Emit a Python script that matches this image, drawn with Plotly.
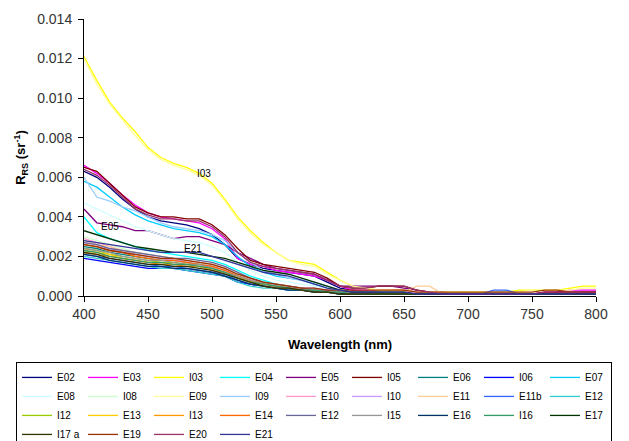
import plotly.graph_objects as go

wavelength = [400, 410, 420, 430, 440, 450, 460, 470, 480, 490, 500, 510, 520, 530, 540, 550,
              560, 570, 580, 590, 600, 610, 620, 630, 640, 650, 660, 670, 680, 690, 700, 710,
              720, 730, 740, 750, 760, 770, 780, 790, 800]

station_names = ["E02", "E03", "I03", "E04", "E05", "I05", "E06", "I06", "E07",
                 "E08", "I08", "E09", "I09", "E10", "I10", "E11", "E11b", "E12",
                 "I12", "E13", "I13", "E14", "E12", "I15", "E16", "I16", "E17",
                 "I17 a", "E19", "E20", "E21"]

station_colors = ["#000080", "#FF00FF", "#FFFF00", "#00FFFF", "#800080", "#800000", "#008080", "#0000FF", "#00CCFF",
                  "#CCFFFF", "#CCFFCC", "#FFFF99", "#99CCFF", "#FF99CC", "#CC99FF", "#FFCC99", "#3366FF", "#33CCCC",
                  "#99CC00", "#FFCC00", "#FF9900", "#FF6600", "#666699", "#969696", "#003366", "#339966", "#003300",
                  "#333300", "#993300", "#993366", "#333399"]

# Remote-sensing reflectance, sr^-1
rrs_E02 = [0.0063, 0.0060, 0.0055, 0.0049, 0.0044, 0.0040, 0.0038, 0.0037, 0.0036, 0.0034, 0.0031, 0.0026, 0.0019, 0.0016, 0.0014, 0.0013, 0.0012, 0.0011, 0.0010, 0.0007, 0.0004, 0.0003, 0.0002, 0.0002, 0.0002, 0.0002, 0.0002, 0.0001, 0.0001, 0.0001, 0.0001, 0.0001, 0.0001, 0.0001, 0.0001, 0.0001, 0.0001, 0.0001, 0.0001, 0.0002, 0.0002]
rrs_E03 = [0.0066, 0.0062, 0.0057, 0.0051, 0.0046, 0.0042, 0.0040, 0.0039, 0.0038, 0.0037, 0.0034, 0.0029, 0.0019, 0.0016, 0.0015, 0.0013, 0.0012, 0.0011, 0.0010, 0.0008, 0.0005, 0.0003, 0.0003, 0.0003, 0.0003, 0.0003, 0.0002, 0.0002, 0.0001, 0.0001, 0.0001, 0.0001, 0.0001, 0.0001, 0.0001, 0.0001, 0.0002, 0.0002, 0.0003, 0.0003, 0.0003]
rrs_I03 = [0.0121, 0.0109, 0.0098, 0.0090, 0.0083, 0.0075, 0.0070, 0.0067, 0.0065, 0.0062, 0.0057, 0.0049, 0.0040, 0.0033, 0.0027, 0.0022, 0.0018, 0.0017, 0.0016, 0.0012, 0.0008, 0.0005, 0.0004, 0.0003, 0.0003, 0.0003, 0.0002, 0.0002, 0.0002, 0.0002, 0.0002, 0.0002, 0.0002, 0.0002, 0.0003, 0.0003, 0.0003, 0.0003, 0.0004, 0.0005, 0.0005]
rrs_E04 = [0.0040, 0.0032, 0.0029, 0.0027, 0.0025, 0.0023, 0.0022, 0.0021, 0.0020, 0.0019, 0.0018, 0.0016, 0.0013, 0.0010, 0.0008, 0.0006, 0.0005, 0.0004, 0.0003, 0.0002, 0.0002, 0.0001, 0.0001, 0.0001, 0.0001, 0.0001, 0.0001, 0.0001, 0.0001, 0.0001, 0.0001, 0.0001, 0.0001, 0.0001, 0.0001, 0.0001, 0.0001, 0.0001, 0.0001, 0.0001, 0.0001]
rrs_E05 = [0.0044, 0.0037, 0.0036, 0.0035, 0.0033, 0.0033, 0.0031, 0.0029, 0.0030, 0.0030, 0.0028, 0.0026, 0.0022, 0.0019, 0.0016, 0.0014, 0.0013, 0.0012, 0.0011, 0.0008, 0.0005, 0.0005, 0.0005, 0.0005, 0.0005, 0.0004, 0.0003, 0.0002, 0.0002, 0.0001, 0.0001, 0.0001, 0.0001, 0.0001, 0.0001, 0.0001, 0.0001, 0.0002, 0.0002, 0.0002, 0.0002]
rrs_I05 = [0.0065, 0.0063, 0.0057, 0.0051, 0.0045, 0.0042, 0.0040, 0.0040, 0.0039, 0.0039, 0.0036, 0.0031, 0.0024, 0.0018, 0.0016, 0.0015, 0.0014, 0.0013, 0.0012, 0.0009, 0.0005, 0.0004, 0.0004, 0.0005, 0.0005, 0.0005, 0.0003, 0.0002, 0.0001, 0.0001, 0.0001, 0.0001, 0.0001, 0.0001, 0.0001, 0.0001, 0.0002, 0.0002, 0.0002, 0.0002, 0.0002]
rrs_E06 = [0.0025, 0.0024, 0.0022, 0.0021, 0.0020, 0.0019, 0.0018, 0.0018, 0.0017, 0.0016, 0.0015, 0.0013, 0.0010, 0.0008, 0.0006, 0.0005, 0.0004, 0.0004, 0.0003, 0.0002, 0.0002, 0.0001, 0.0001, 0.0001, 0.0001, 0.0001, 0.0001, 0.0001, 0.0001, 0.0001, 0.0001, 0.0001, 0.0001, 0.0001, 0.0001, 0.0001, 0.0001, 0.0001, 0.0001, 0.0001, 0.0001]
rrs_I06 = [0.0019, 0.0018, 0.0017, 0.0016, 0.0015, 0.0014, 0.0014, 0.0014, 0.0013, 0.0012, 0.0011, 0.0010, 0.0007, 0.0006, 0.0005, 0.0004, 0.0003, 0.0003, 0.0002, 0.0002, 0.0001, 0.0001, 0.0001, 0.0001, 0.0001, 0.0001, 0.0001, 0.0001, 0.0001, 0.0001, 0.0001, 0.0001, 0.0002, 0.0002, 0.0001, 0.0001, 0.0001, 0.0001, 0.0001, 0.0001, 0.0001]
rrs_E07 = [0.0058, 0.0055, 0.0050, 0.0045, 0.0041, 0.0038, 0.0036, 0.0034, 0.0033, 0.0032, 0.0030, 0.0026, 0.0020, 0.0015, 0.0012, 0.0010, 0.0009, 0.0008, 0.0006, 0.0004, 0.0003, 0.0002, 0.0002, 0.0002, 0.0002, 0.0002, 0.0001, 0.0001, 0.0001, 0.0001, 0.0001, 0.0001, 0.0001, 0.0001, 0.0001, 0.0001, 0.0001, 0.0001, 0.0001, 0.0001, 0.0001]
rrs_E08 = [0.0047, 0.0044, 0.0041, 0.0038, 0.0035, 0.0033, 0.0031, 0.0029, 0.0028, 0.0027, 0.0025, 0.0022, 0.0017, 0.0013, 0.0010, 0.0008, 0.0007, 0.0006, 0.0005, 0.0004, 0.0003, 0.0002, 0.0002, 0.0002, 0.0001, 0.0001, 0.0001, 0.0001, 0.0001, 0.0001, 0.0001, 0.0001, 0.0001, 0.0001, 0.0001, 0.0001, 0.0001, 0.0001, 0.0001, 0.0001, 0.0001]
rrs_I08 = [0.0030, 0.0028, 0.0026, 0.0024, 0.0022, 0.0021, 0.0020, 0.0019, 0.0018, 0.0017, 0.0016, 0.0014, 0.0011, 0.0009, 0.0007, 0.0006, 0.0005, 0.0004, 0.0003, 0.0003, 0.0002, 0.0002, 0.0001, 0.0001, 0.0001, 0.0001, 0.0001, 0.0001, 0.0001, 0.0001, 0.0001, 0.0001, 0.0001, 0.0001, 0.0001, 0.0001, 0.0001, 0.0001, 0.0001, 0.0001, 0.0001]
rrs_E09 = [0.0120, 0.0107, 0.0097, 0.0089, 0.0081, 0.0074, 0.0069, 0.0066, 0.0064, 0.0061, 0.0056, 0.0048, 0.0039, 0.0032, 0.0026, 0.0022, 0.0018, 0.0016, 0.0015, 0.0011, 0.0008, 0.0005, 0.0004, 0.0003, 0.0003, 0.0002, 0.0002, 0.0002, 0.0002, 0.0002, 0.0002, 0.0002, 0.0002, 0.0002, 0.0002, 0.0003, 0.0003, 0.0003, 0.0003, 0.0004, 0.0004]
rrs_I09 = [0.0060, 0.0050, 0.0048, 0.0045, 0.0043, 0.0040, 0.0037, 0.0035, 0.0034, 0.0033, 0.0031, 0.0028, 0.0022, 0.0017, 0.0013, 0.0011, 0.0009, 0.0008, 0.0007, 0.0005, 0.0003, 0.0002, 0.0002, 0.0002, 0.0002, 0.0001, 0.0001, 0.0001, 0.0001, 0.0001, 0.0001, 0.0001, 0.0001, 0.0001, 0.0001, 0.0001, 0.0001, 0.0001, 0.0001, 0.0001, 0.0001]
rrs_E10 = [0.0029, 0.0027, 0.0025, 0.0023, 0.0021, 0.0020, 0.0019, 0.0018, 0.0017, 0.0016, 0.0015, 0.0013, 0.0010, 0.0008, 0.0006, 0.0005, 0.0004, 0.0004, 0.0003, 0.0002, 0.0002, 0.0001, 0.0001, 0.0001, 0.0001, 0.0001, 0.0001, 0.0001, 0.0001, 0.0001, 0.0001, 0.0001, 0.0001, 0.0001, 0.0001, 0.0001, 0.0001, 0.0001, 0.0001, 0.0001, 0.0001]
rrs_I10 = [0.0027, 0.0026, 0.0024, 0.0022, 0.0021, 0.0020, 0.0019, 0.0018, 0.0018, 0.0017, 0.0016, 0.0014, 0.0011, 0.0009, 0.0007, 0.0006, 0.0005, 0.0004, 0.0004, 0.0003, 0.0002, 0.0002, 0.0002, 0.0002, 0.0002, 0.0002, 0.0002, 0.0001, 0.0001, 0.0001, 0.0001, 0.0001, 0.0001, 0.0001, 0.0001, 0.0001, 0.0001, 0.0001, 0.0001, 0.0001, 0.0001]
rrs_E11 = [0.0028, 0.0026, 0.0025, 0.0023, 0.0022, 0.0021, 0.0020, 0.0019, 0.0018, 0.0017, 0.0016, 0.0014, 0.0011, 0.0009, 0.0007, 0.0006, 0.0005, 0.0004, 0.0003, 0.0003, 0.0002, 0.0002, 0.0002, 0.0002, 0.0002, 0.0002, 0.0005, 0.0005, 0.0001, 0.0001, 0.0001, 0.0001, 0.0001, 0.0001, 0.0001, 0.0001, 0.0001, 0.0001, 0.0001, 0.0001, 0.0001]
rrs_E11b = [0.0021, 0.0020, 0.0019, 0.0018, 0.0017, 0.0016, 0.0015, 0.0015, 0.0014, 0.0013, 0.0012, 0.0011, 0.0008, 0.0006, 0.0005, 0.0004, 0.0003, 0.0003, 0.0002, 0.0002, 0.0001, 0.0001, 0.0001, 0.0001, 0.0001, 0.0001, 0.0001, 0.0001, 0.0001, 0.0001, 0.0001, 0.0001, 0.0003, 0.0003, 0.0001, 0.0001, 0.0001, 0.0001, 0.0001, 0.0001, 0.0001]
rrs_E12 = [0.0020, 0.0019, 0.0018, 0.0017, 0.0016, 0.0015, 0.0014, 0.0014, 0.0013, 0.0012, 0.0011, 0.0010, 0.0007, 0.0005, 0.0004, 0.0004, 0.0003, 0.0003, 0.0002, 0.0002, 0.0001, 0.0001, 0.0001, 0.0001, 0.0001, 0.0001, 0.0001, 0.0001, 0.0001, 0.0001, 0.0001, 0.0001, 0.0001, 0.0001, 0.0001, 0.0001, 0.0001, 0.0001, 0.0001, 0.0001, 0.0001]
rrs_I12 = [0.0024, 0.0023, 0.0021, 0.0020, 0.0019, 0.0018, 0.0017, 0.0017, 0.0016, 0.0015, 0.0014, 0.0012, 0.0009, 0.0007, 0.0006, 0.0005, 0.0004, 0.0003, 0.0003, 0.0002, 0.0002, 0.0001, 0.0001, 0.0001, 0.0001, 0.0001, 0.0001, 0.0001, 0.0001, 0.0001, 0.0001, 0.0001, 0.0001, 0.0001, 0.0001, 0.0001, 0.0001, 0.0001, 0.0001, 0.0001, 0.0001]
rrs_E13 = [0.0023, 0.0022, 0.0021, 0.0019, 0.0018, 0.0017, 0.0017, 0.0016, 0.0016, 0.0015, 0.0014, 0.0012, 0.0010, 0.0007, 0.0006, 0.0005, 0.0004, 0.0003, 0.0003, 0.0002, 0.0002, 0.0001, 0.0001, 0.0001, 0.0001, 0.0001, 0.0001, 0.0001, 0.0001, 0.0001, 0.0001, 0.0001, 0.0001, 0.0001, 0.0001, 0.0001, 0.0001, 0.0001, 0.0001, 0.0001, 0.0001]
rrs_I13 = [0.0022, 0.0021, 0.0020, 0.0019, 0.0018, 0.0017, 0.0016, 0.0016, 0.0015, 0.0015, 0.0013, 0.0012, 0.0009, 0.0007, 0.0005, 0.0004, 0.0004, 0.0003, 0.0002, 0.0002, 0.0001, 0.0001, 0.0001, 0.0001, 0.0001, 0.0001, 0.0001, 0.0001, 0.0001, 0.0001, 0.0001, 0.0001, 0.0001, 0.0001, 0.0001, 0.0001, 0.0001, 0.0001, 0.0001, 0.0001, 0.0001]
rrs_E14 = [0.0026, 0.0025, 0.0023, 0.0022, 0.0020, 0.0019, 0.0018, 0.0018, 0.0017, 0.0016, 0.0015, 0.0013, 0.0010, 0.0008, 0.0006, 0.0005, 0.0004, 0.0003, 0.0003, 0.0002, 0.0002, 0.0001, 0.0001, 0.0001, 0.0001, 0.0001, 0.0001, 0.0001, 0.0001, 0.0001, 0.0001, 0.0001, 0.0001, 0.0001, 0.0001, 0.0001, 0.0001, 0.0001, 0.0001, 0.0001, 0.0001]
rrs_E15 = [0.0027, 0.0026, 0.0024, 0.0023, 0.0022, 0.0021, 0.0020, 0.0019, 0.0019, 0.0018, 0.0017, 0.0015, 0.0012, 0.0009, 0.0007, 0.0006, 0.0005, 0.0004, 0.0003, 0.0003, 0.0002, 0.0002, 0.0002, 0.0002, 0.0001, 0.0001, 0.0001, 0.0001, 0.0001, 0.0001, 0.0001, 0.0001, 0.0001, 0.0001, 0.0001, 0.0001, 0.0001, 0.0001, 0.0001, 0.0001, 0.0001]
rrs_I15 = [0.0024, 0.0023, 0.0022, 0.0020, 0.0019, 0.0018, 0.0018, 0.0017, 0.0016, 0.0016, 0.0014, 0.0012, 0.0010, 0.0008, 0.0006, 0.0005, 0.0004, 0.0003, 0.0003, 0.0002, 0.0002, 0.0001, 0.0001, 0.0001, 0.0001, 0.0001, 0.0001, 0.0001, 0.0001, 0.0001, 0.0001, 0.0001, 0.0001, 0.0001, 0.0001, 0.0001, 0.0001, 0.0001, 0.0001, 0.0001, 0.0001]
rrs_E16 = [0.0021, 0.0020, 0.0018, 0.0017, 0.0016, 0.0015, 0.0015, 0.0014, 0.0014, 0.0013, 0.0012, 0.0010, 0.0008, 0.0006, 0.0005, 0.0004, 0.0003, 0.0003, 0.0002, 0.0002, 0.0001, 0.0001, 0.0001, 0.0001, 0.0001, 0.0001, 0.0001, 0.0001, 0.0001, 0.0001, 0.0001, 0.0001, 0.0001, 0.0001, 0.0001, 0.0001, 0.0001, 0.0001, 0.0001, 0.0001, 0.0001]
rrs_I16 = [0.0023, 0.0022, 0.0020, 0.0019, 0.0018, 0.0017, 0.0017, 0.0016, 0.0016, 0.0015, 0.0014, 0.0012, 0.0009, 0.0007, 0.0006, 0.0005, 0.0004, 0.0003, 0.0003, 0.0002, 0.0002, 0.0001, 0.0001, 0.0001, 0.0001, 0.0001, 0.0001, 0.0001, 0.0001, 0.0001, 0.0001, 0.0001, 0.0001, 0.0001, 0.0001, 0.0001, 0.0001, 0.0001, 0.0001, 0.0001, 0.0001]
rrs_E17 = [0.0033, 0.0031, 0.0029, 0.0027, 0.0025, 0.0024, 0.0023, 0.0022, 0.0022, 0.0021, 0.0020, 0.0019, 0.0017, 0.0015, 0.0013, 0.0012, 0.0011, 0.0009, 0.0007, 0.0005, 0.0003, 0.0002, 0.0002, 0.0002, 0.0002, 0.0002, 0.0001, 0.0001, 0.0001, 0.0001, 0.0001, 0.0001, 0.0001, 0.0001, 0.0001, 0.0001, 0.0001, 0.0001, 0.0001, 0.0001, 0.0001]
rrs_I17a = [0.0022, 0.0021, 0.0019, 0.0018, 0.0017, 0.0016, 0.0016, 0.0015, 0.0015, 0.0014, 0.0013, 0.0011, 0.0009, 0.0007, 0.0005, 0.0004, 0.0004, 0.0003, 0.0002, 0.0002, 0.0001, 0.0001, 0.0001, 0.0001, 0.0001, 0.0001, 0.0001, 0.0001, 0.0001, 0.0001, 0.0001, 0.0001, 0.0001, 0.0001, 0.0001, 0.0001, 0.0001, 0.0001, 0.0001, 0.0001, 0.0001]
rrs_E19 = [0.0026, 0.0025, 0.0023, 0.0022, 0.0021, 0.0020, 0.0019, 0.0019, 0.0018, 0.0017, 0.0016, 0.0014, 0.0011, 0.0009, 0.0007, 0.0006, 0.0005, 0.0004, 0.0004, 0.0003, 0.0003, 0.0003, 0.0003, 0.0003, 0.0003, 0.0003, 0.0002, 0.0002, 0.0002, 0.0002, 0.0002, 0.0002, 0.0002, 0.0002, 0.0002, 0.0002, 0.0003, 0.0003, 0.0002, 0.0002, 0.0002]
rrs_E20 = [0.0064, 0.0061, 0.0056, 0.0050, 0.0044, 0.0041, 0.0039, 0.0039, 0.0038, 0.0038, 0.0035, 0.0030, 0.0022, 0.0017, 0.0015, 0.0014, 0.0013, 0.0012, 0.0011, 0.0008, 0.0005, 0.0004, 0.0004, 0.0005, 0.0005, 0.0005, 0.0003, 0.0002, 0.0001, 0.0001, 0.0001, 0.0001, 0.0001, 0.0001, 0.0001, 0.0001, 0.0002, 0.0002, 0.0002, 0.0002, 0.0002]
rrs_E21 = [0.0028, 0.0027, 0.0026, 0.0025, 0.0024, 0.0023, 0.0022, 0.0022, 0.0022, 0.0022, 0.0020, 0.0018, 0.0016, 0.0014, 0.0012, 0.0011, 0.0010, 0.0008, 0.0006, 0.0004, 0.0003, 0.0002, 0.0002, 0.0002, 0.0002, 0.0002, 0.0001, 0.0001, 0.0001, 0.0001, 0.0001, 0.0001, 0.0001, 0.0001, 0.0001, 0.0001, 0.0001, 0.0001, 0.0001, 0.0001, 0.0001]

station_values = [rrs_E02, rrs_E03, rrs_I03, rrs_E04, rrs_E05, rrs_I05, rrs_E06, rrs_I06, rrs_E07,
                  rrs_E08, rrs_I08, rrs_E09, rrs_I09, rrs_E10, rrs_I10, rrs_E11, rrs_E11b, rrs_E12,
                  rrs_I12, rrs_E13, rrs_I13, rrs_E14, rrs_E15, rrs_I15, rrs_E16, rrs_I16, rrs_E17,
                  rrs_I17a, rrs_E19, rrs_E20, rrs_E21]

label_names = ["I03", "E05", "E21"]
label_x = [494, 420, 485]
label_y = [0.0062, 0.0035, 0.0024]

y_ticks = [0.000, 0.002, 0.004, 0.006, 0.008, 0.010, 0.012, 0.014]
x_ticks = [400, 450, 500, 550, 600, 650, 700, 750, 800]

FONT = "Liberation Sans, Arial, sans-serif"

fig = go.Figure()
for name, color, vals in zip(station_names, station_colors, station_values):
    fig.add_trace(go.Scatter(x=wavelength, y=vals, mode="lines", name=name,
                             line=dict(color=color, width=1.3)))

for t, lx, ly in zip(label_names, label_x, label_y):
    fig.add_annotation(x=lx, y=ly, text=t, showarrow=False,
                       font=dict(family=FONT, size=10, color="#000000"))

fig.update_layout(
    width=629, height=441,
    margin=dict(l=84, r=33, t=19, b=145, autoexpand=False),
    paper_bgcolor="white", plot_bgcolor="white",
    font=dict(family=FONT, color="#000000"),
    showlegend=True,
    legend=dict(
        orientation="h",
        x=-0.1328, xanchor="left",
        y=-0.238, yanchor="top",
        bordercolor="#000000", borderwidth=1, bgcolor="white",
        font=dict(family=FONT, size=10, color="#000000"),
        entrywidth=21, entrywidthmode="pixels",
        itemwidth=30, tracegroupgap=0,
    ),
    xaxis=dict(
        range=[400, 800], tickvals=x_ticks, ticktext=[str(v) for v in x_ticks],
        showgrid=False, zeroline=False,
        showline=True, linecolor="#000000", linewidth=1,
        ticks="outside", ticklen=5, tickcolor="#000000",
        tickfont=dict(family=FONT, size=14, color="#333333"),
        title=dict(text="<b>Wavelength (nm)</b>", font=dict(family=FONT, size=13, color="#000000"), standoff=19),
    ),
    yaxis=dict(
        range=[0, 0.014], tickvals=y_ticks, tickformat=".3f",
        showgrid=False, zeroline=False,
        showline=True, linecolor="#000000", linewidth=1,
        ticks="outside", ticklen=5, tickcolor="#000000",
        ticklabelstandoff=3,
        tickfont=dict(family=FONT, size=14, color="#333333"),
        title=dict(text="<b>R<sub>RS</sub> (sr<sup>-1</sup>)</b>", font=dict(family=FONT, size=13, color="#000000"), standoff=8),
    ),
)

fig.write_html("out.html", config={"displayModeBar": False},
               post_script="document.body.style.margin='0px';")
